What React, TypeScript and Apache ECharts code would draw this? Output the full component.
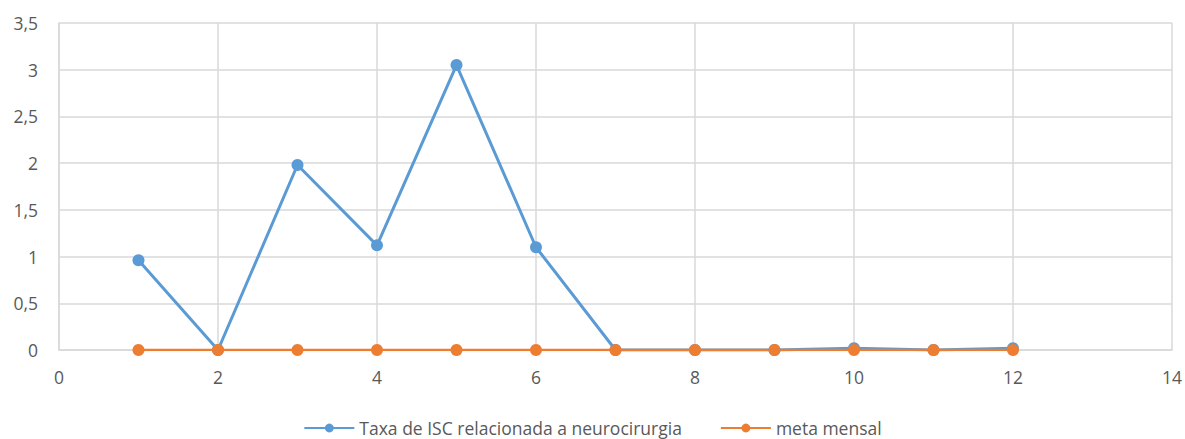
import React, { useEffect, useRef } from "react";
import * as echarts from "echarts";

const xValues = [1, 2, 3, 4, 5, 6, 7, 8, 9, 10, 11, 12];
const taxaISC = [0.96, 0, 1.98, 1.12, 3.05, 1.1, 0, 0, 0, 0.02, 0, 0.02];
const metaMensal = [0, 0, 0, 0, 0, 0, 0, 0, 0, 0, 0, 0];
const seriesNames = ["Taxa de ISC relacionada a neurocirurgia", "meta mensal"];

const FONT = "'Open Sans', sans-serif";

export default function App() {
  const ref = useRef<HTMLDivElement>(null);
  useEffect(() => {
    document.body.style.margin = "0";
    const chart = echarts.init(ref.current!, null, { renderer: "svg" });
    const fmt = (v: number) => String(v).replace(".", ",");
    chart.setOption({
      animation: false,
      textStyle: { fontFamily: FONT },
      grid: { left: 59, right: 13, top: 23, bottom: 89 },
      legend: {
        top: 416,
        padding: 0,
        left: "center",
        itemWidth: 50,
        itemHeight: 11,
        itemGap: 38,
        textStyle: { color: "#595959", fontSize: 17.5, lineHeight: 24, fontFamily: FONT },
        data: seriesNames,
      },
      xAxis: {
        type: "value",
        min: 0,
        max: 14,
        interval: 2,
        axisLine: { show: true, lineStyle: { color: "#d9d9d9", width: 1.5 } },
        axisTick: { show: false },
        splitLine: { show: true, lineStyle: { color: "#d9d9d9", width: 1.5 } },
        axisLabel: { color: "#595959", fontSize: 17.5, margin: 18, fontFamily: FONT },
      },
      yAxis: {
        type: "value",
        min: 0,
        max: 3.5,
        interval: 0.5,
        axisLine: { show: true, lineStyle: { color: "#d9d9d9", width: 1.5 } },
        axisTick: { show: false },
        splitLine: { show: true, lineStyle: { color: "#d9d9d9", width: 1.5 } },
        axisLabel: { color: "#595959", fontSize: 17.5, margin: 21, formatter: fmt, fontFamily: FONT },
      },
      series: [
        {
          name: seriesNames[0],
          type: "line",
          data: xValues.map((x, i) => [x, taxaISC[i]]),
          symbol: "circle",
          symbolSize: 12,
          itemStyle: { color: "#5B9BD5" },
          lineStyle: { color: "#5B9BD5", width: 3 },
        },
        {
          name: seriesNames[1],
          type: "line",
          data: xValues.map((x, i) => [x, metaMensal[i]]),
          symbol: "circle",
          symbolSize: 12,
          itemStyle: { color: "#ED7D31" },
          lineStyle: { color: "#ED7D31", width: 2.5 },
        },
      ],
    });
    return () => chart.dispose();
  }, []);
  return <div ref={ref} style={{ width: 1185, height: 439 }} />;
}
